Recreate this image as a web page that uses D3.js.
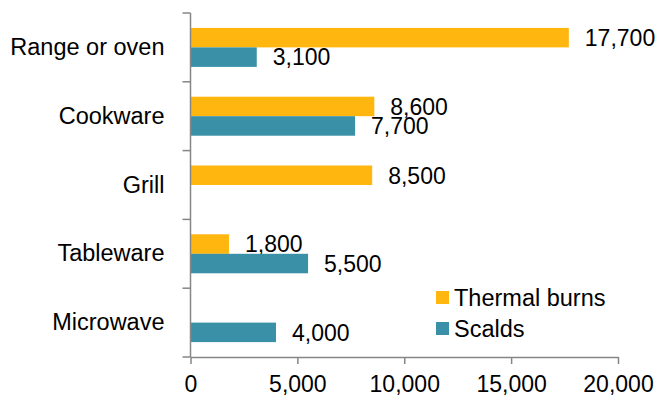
<!DOCTYPE html>
<html>
<head>
<meta charset="utf-8">
<script src="https://cdn.jsdelivr.net/npm/d3@7"></script>
<style>
  body { margin: 0; background: #fff; }
  svg text { font-family: "Liberation Sans", Arial, sans-serif; }
</style>
</head>
<body>
<svg id="chart" width="658" height="406"></svg>
<script>
// categories top to bottom
const categories = ["Range or oven", "Cookware", "Grill", "Tableware", "Microwave"];
const seriesNames = ["Thermal burns", "Scalds"];
const thermalBurns = [17700, 8600, 8500, 1800, null];
const scalds = [3100, 7700, null, 5500, 4000];
const xTicks = [0, 5000, 10000, 15000, 20000];
const colors = ["#FFB60F", "#3A91A7"];

function drawChart() {
    var svg = d3.select("#chart");
    var left = 190.5, right = 618, top = 13, bottom = 357;
    var numSize = 23, textSize = 23.5;

    var x = d3.scaleLinear()
        .domain([0, 20000])
        .range([left, right]);

    var y0 = d3.scaleBand()
        .domain(categories)
        .range([top, bottom])
        .padding(0);

    var groupH = 39;
    var y1 = d3.scaleBand()
        .domain(seriesNames)
        .range([0, groupH]);

    var rows = categories.map(function (c, i) {
        return { cat: c, vals: [thermalBurns[i], scalds[i]] };
    });

    var g = svg.append("g");

    // bars + value labels
    rows.forEach(function (r) {
        var offset = y0(r.cat) + (y0.bandwidth() - groupH) / 2;
        r.vals.forEach(function (v, j) {
            if (v == null) return;
            var yy = offset + y1(seriesNames[j]);
            g.append("rect")
                .attr("x", x(0))
                .attr("y", yy)
                .attr("width", x(v) - x(0))
                .attr("height", y1.bandwidth())
                .attr("fill", colors[j]);
            g.append("text")
                .attr("x", x(v) + 16)
                .attr("y", yy + y1.bandwidth() / 2)
                .attr("dy", "0.36em")
                .attr("font-size", numSize)
                .attr("fill", "#000")
                .text(d3.format(",")(v));
        });
    });

    // x axis
    var xAxis = svg.append("g")
        .attr("transform", "translate(0," + bottom + ")")
        .call(d3.axisBottom(x).tickValues(xTicks).tickFormat(d3.format(",")).tickSize(7).tickSizeOuter(0).tickPadding(12));
    xAxis.select(".domain").attr("stroke", "#868686").attr("stroke-width", 1.5);
    xAxis.selectAll(".tick line").attr("stroke", "#868686").attr("stroke-width", 1.5);
    xAxis.selectAll("text").attr("font-size", numSize).attr("fill", "#000");

    // y axis (labels)
    var yAxis = svg.append("g")
        .attr("transform", "translate(" + left + ",0)")
        .call(d3.axisLeft(y0).tickSize(0).tickPadding(26));
    yAxis.select(".domain").remove();
    yAxis.selectAll("text").attr("font-size", textSize).attr("fill", "#000");

    // y axis line and boundary ticks
    svg.append("line")
        .attr("x1", left).attr("x2", left)
        .attr("y1", top).attr("y2", bottom)
        .attr("stroke", "#868686").attr("stroke-width", 1.5);
    var edges = categories.map(function (c) { return y0(c); }).concat([bottom]);
    svg.selectAll(".ytick").data(edges).enter().append("line")
        .attr("class", "ytick")
        .attr("x1", left - 8).attr("x2", left)
        .attr("y1", function (d) { return d; })
        .attr("y2", function (d) { return d; })
        .attr("stroke", "#868686").attr("stroke-width", 1.5);

    // legend
    var legend = svg.append("g").attr("transform", "translate(436,291)");
    seriesNames.forEach(function (s, i) {
        legend.append("rect")
            .attr("x", 0).attr("y", i * 31)
            .attr("width", 13).attr("height", 13)
            .attr("fill", colors[i]);
        legend.append("text")
            .attr("x", 18).attr("y", i * 31 + 6.5)
            .attr("dy", "0.36em")
            .attr("font-size", textSize)
            .attr("fill", "#000")
            .text(s);
    });
}

drawChart();
</script>
</body>
</html>
